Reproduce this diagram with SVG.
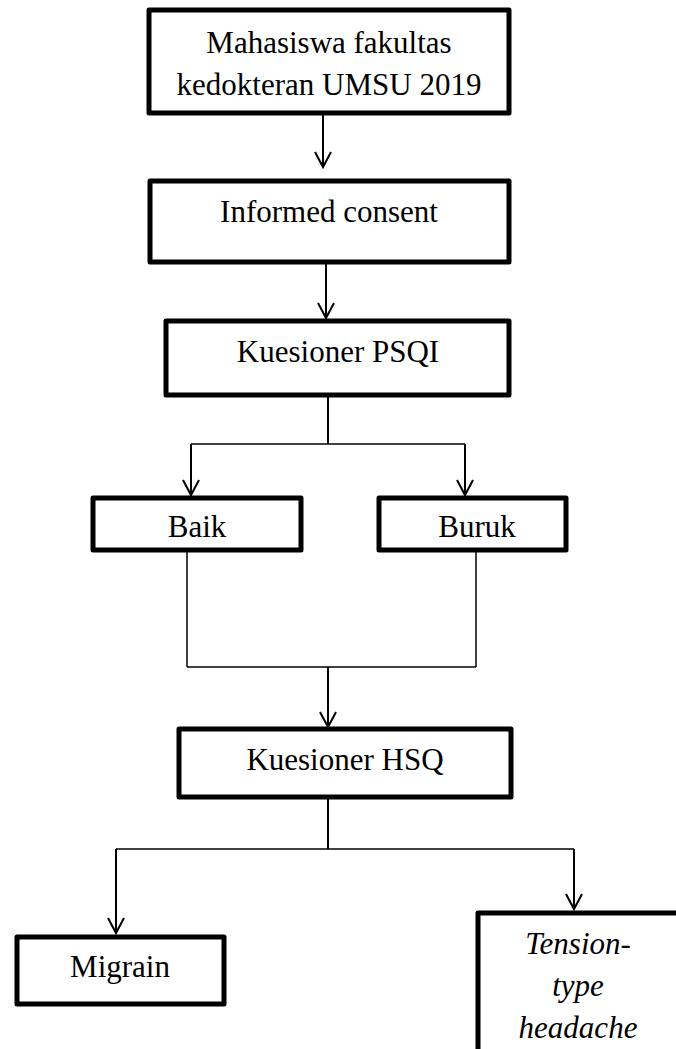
<svg xmlns="http://www.w3.org/2000/svg" width="676" height="1049" viewBox="0 0 676 1049">
<defs>
<style>
.box{fill:#fff;stroke:#000;stroke-width:5;stroke-linejoin:round}
text{font-family:'Liberation Serif','Times New Roman',Times,'DejaVu Serif',serif;font-size:31px;fill:#000;text-anchor:middle}
.it{font-style:italic}
.c{fill:none;stroke:#000;stroke-width:2}
.h{fill:none;stroke:#000;stroke-width:1.5}
</style>
</defs>
<rect width="676" height="1049" fill="#fff"/>
<g id="connectors">
<line class="c" x1="323" y1="113" x2="323" y2="167"/>
<line class="c" x1="326" y1="263" x2="326" y2="318"/>
<line class="c" x1="328" y1="396" x2="328" y2="444"/>
<line class="h" x1="191" y1="444" x2="465" y2="444"/>
<line class="c" x1="191" y1="444" x2="191" y2="495"/>
<line class="c" x1="465" y1="444" x2="465" y2="495"/>
<line class="h" x1="187" y1="551" x2="187" y2="667"/>
<line class="h" x1="476" y1="551" x2="476" y2="667"/>
<line class="h" x1="187" y1="667" x2="476" y2="667"/>
<line class="c" x1="328" y1="667" x2="328" y2="727"/>
<line class="c" x1="328" y1="798" x2="328" y2="849"/>
<line class="h" x1="116" y1="849" x2="574" y2="849"/>
<line class="c" x1="116" y1="849" x2="116" y2="933"/>
<line class="c" x1="574" y1="849" x2="574" y2="909"/>
<g fill="none" stroke="#000" stroke-width="2">
<path d="M315,152 L323,167 L331,152"/>
<path d="M318,303 L326,318 L334,303"/>
<path d="M183,480 L191,495 L199,480"/>
<path d="M457,480 L465,495 L473,480"/>
<path d="M320,712 L328,727 L336,712"/>
<path d="M108,918 L116,933 L124,918"/>
<path d="M566,894 L574,909 L582,894"/>
</g>
</g>
<g id="n1"><rect class="box" x="149" y="10" width="360" height="103"/>
<text x="329" y="53">Mahasiswa fakultas</text>
<text x="329" y="95">kedokteran UMSU 2019</text></g>
<g id="n2"><rect class="box" x="150" y="181" width="359" height="81"/>
<text x="329" y="222">Informed consent</text></g>
<g id="n3"><rect class="box" x="166" y="321" width="343" height="74"/>
<text x="338" y="362">Kuesioner PSQI</text></g>
<g id="n4"><rect class="box" x="93" y="498" width="208" height="52"/>
<text x="197" y="537">Baik</text></g>
<g id="n5"><rect class="box" x="379" y="498" width="187" height="52"/>
<text x="477" y="537">Buruk</text></g>
<g id="n6"><rect class="box" x="179" y="729" width="332" height="68"/>
<text x="345" y="770">Kuesioner HSQ</text></g>
<g id="n7"><rect class="box" x="17" y="937" width="207" height="67"/>
<text x="120" y="977">Migrain</text></g>
<g id="n8"><rect class="box" x="478" y="913" width="260" height="200"/>
<text class="it" x="578" y="954">Tension-</text>
<text class="it" x="578" y="996">type</text>
<text class="it" x="578" y="1038">headache</text></g>
</svg>
